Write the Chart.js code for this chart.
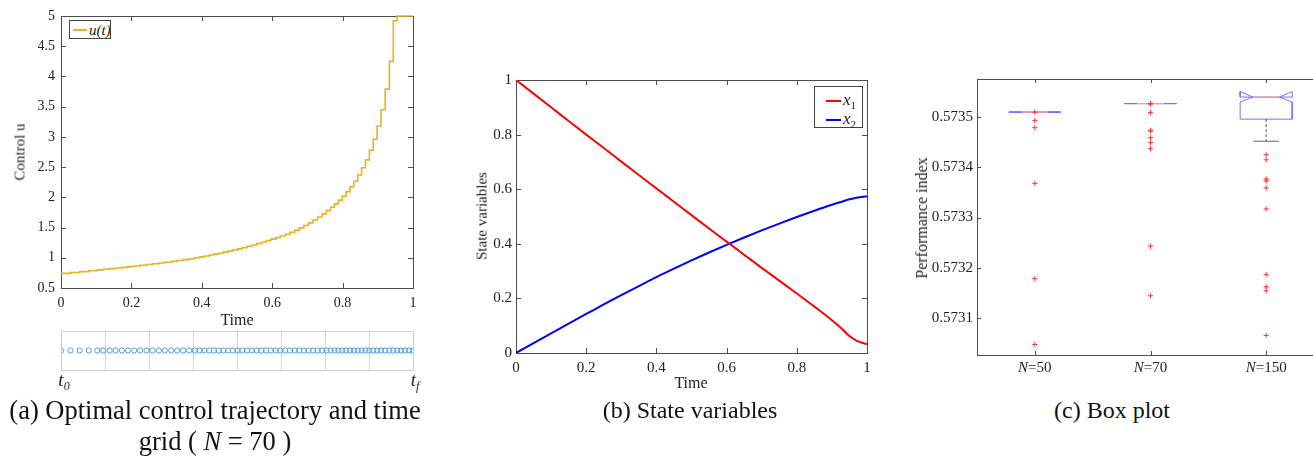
<!DOCTYPE html>
<html>
<head>
<meta charset="utf-8">
<script src="https://cdn.jsdelivr.net/npm/chart.js@4"></script>
<style>
  html, body { margin: 0; padding: 0; background: #fff; }
  body { width: 1313px; height: 456px; overflow: hidden; position: relative; font-family: "Liberation Serif", "Times New Roman", serif; color: #222; }
  canvas { position: absolute; }
  .t { position: absolute; white-space: nowrap; transform: translate(-50%, -50%); line-height: 1; }
  .rot { transform: translate(-50%, -50%) rotate(-90deg); }
  .leg { position: absolute; border: 1px solid #444; background: #fff; box-sizing: border-box; }
  .legrow { position: absolute; left: 0; height: 16px; font-style: italic; }
  .legline { position: absolute; height: 0; border-top: 2px solid; }
  .cap { font-size: 24px; color: #111; }
</style>
</head>
<body>
<canvas id="ca" width="440" height="312" style="left:0;top:0"></canvas>
<canvas id="cg" width="440" height="50" style="left:0;top:325px"></canvas>
<canvas id="cb" width="420" height="318" style="left:460px;top:60px"></canvas>
<canvas id="cc" width="450" height="325" style="left:890px;top:60px"></canvas>

<!-- panel (a) texts -->
<div class="t rot" style="left:20px;top:152px;font-size:15px">Control u</div>
<div class="t" style="left:237px;top:320px;font-size:16px">Time</div>
<div class="leg" style="left:69px;top:20px;width:42px;height:19px">
  <div class="legline" style="left:3px;top:8px;width:14px;border-color:#EDB120"></div>
  <div class="legrow" style="left:19px;top:1px;font-size:15px">u(t)</div>
</div>
<div class="t" style="left:64px;top:381px;font-size:19px;font-style:italic">t<sub style="font-size:12px">0</sub></div>
<div class="t" style="left:415px;top:381px;font-size:19px;font-style:italic">t<sub style="font-size:12px">f</sub></div>
<div class="t cap" style="left:215px;top:410px;font-size:26.5px">(a) Optimal control trajectory and time</div>
<div class="t cap" style="left:215px;top:441px;font-size:26.5px">grid ( <i>N</i> = 70 )</div>

<!-- panel (b) texts -->
<div class="t rot" style="left:482px;top:216px;font-size:15px">State variables</div>
<div class="t" style="left:691px;top:383px;font-size:16px">Time</div>
<div class="leg" style="left:814px;top:86px;width:49px;height:42px">
  <div class="legline" style="left:11px;top:13px;width:15px;border-color:#ff0000"></div>
  <div class="legrow" style="left:28px;top:3px;font-size:17px">x<sub style="font-size:11px;font-style:normal">1</sub></div>
  <div class="legline" style="left:11px;top:32px;width:15px;border-color:#0000ff"></div>
  <div class="legrow" style="left:28px;top:22px;font-size:17px">x<sub style="font-size:11px;font-style:normal">2</sub></div>
</div>
<div class="t cap" style="left:690px;top:410px">(b) State variables</div>

<!-- panel (c) texts -->
<div class="t rot" style="left:922px;top:218px;font-size:16px">Performance index</div>
<div class="t cap" style="left:1112px;top:410px">(c) Box plot</div>

<script>
// ---------- (a) control trajectory on the N = 70 time grid ----------
const gridNodes = [
  0, 0.027, 0.053, 0.079, 0.103,
  0.120, 0.138, 0.155, 0.173, 0.190, 0.208, 0.225, 0.243, 0.260, 0.278, 0.295, 0.313, 0.330, 0.347, 0.364, 0.380,
  0.394, 0.407, 0.421, 0.434, 0.448, 0.461, 0.475, 0.488, 0.502, 0.515, 0.529, 0.542, 0.556, 0.569, 0.583, 0.596,
  0.610, 0.623, 0.637, 0.650, 0.664, 0.677, 0.690, 0.703, 0.716, 0.729, 0.742, 0.754,
  0.766, 0.777, 0.788, 0.799, 0.810, 0.821, 0.832, 0.843, 0.854, 0.865, 0.876, 0.887, 0.898, 0.909, 0.921, 0.933,
  0.944, 0.955, 0.966, 0.977, 0.989, 1.0
];
// control value held on each interval [gridNodes[i], gridNodes[i+1])
const controlU = [
  0.742, 0.757, 0.771, 0.786, 0.800,
  0.810, 0.820, 0.830, 0.841, 0.853, 0.864, 0.876, 0.888, 0.900, 0.913, 0.926, 0.940, 0.954, 0.969, 0.984, 1.000,
  1.015, 1.030, 1.045, 1.060, 1.076, 1.093, 1.110, 1.128, 1.148, 1.168, 1.189, 1.211, 1.234, 1.258, 1.283, 1.308,
  1.333, 1.360, 1.390, 1.422, 1.457, 1.495, 1.535, 1.578, 1.625, 1.675, 1.727, 1.780,
  1.835, 1.892, 1.953, 2.020, 2.095, 2.175, 2.265, 2.370, 2.490, 2.620, 2.780, 2.960, 3.180, 3.450, 3.790, 4.250,
  4.920, 5.000, 5.000, 5.000, 5.000
];
const xTicksA = [0, 0.2, 0.4, 0.6, 0.8, 1];
const xTickLabelsA = ['0', '0.2', '0.4', '0.6', '0.8', '1'];
const yTicksA = [0.5, 1, 1.5, 2, 2.5, 3, 3.5, 4, 4.5, 5];
const yTickLabelsA = ['0.5', '1', '1.5', '2', '2.5', '3', '3.5', '4', '4.5', '5'];
const stripTicks = [0, 0.125, 0.25, 0.375, 0.5, 0.625, 0.75, 0.875, 1];

// ---------- (b) state variables ----------
const timeB = [0, 0.05, 0.1, 0.15, 0.2, 0.25, 0.3, 0.35, 0.4, 0.45, 0.5, 0.55, 0.6, 0.65, 0.7, 0.75, 0.8, 0.85, 0.9, 0.93, 0.95, 0.97, 1.0];
const stateX1 = [1, 0.95, 0.9, 0.85, 0.8, 0.751, 0.701, 0.652, 0.603, 0.554, 0.505, 0.456, 0.408, 0.36, 0.312, 0.265, 0.218, 0.17, 0.12, 0.087, 0.062, 0.045, 0.032];
const stateX2 = [0, 0.036, 0.072, 0.108, 0.143, 0.178, 0.212, 0.245, 0.278, 0.309, 0.339, 0.368, 0.396, 0.423, 0.449, 0.474, 0.498, 0.521, 0.543, 0.555, 0.563, 0.569, 0.574];
const xTicksB = [0, 0.2, 0.4, 0.6, 0.8, 1];
const xTickLabelsB = ['0', '0.2', '0.4', '0.6', '0.8', '1'];
const yTicksB = [0, 0.2, 0.4, 0.6, 0.8, 1];
const yTickLabelsB = ['0', '0.2', '0.4', '0.6', '0.8', '1'];

// ---------- (c) box plot of the performance index ----------
const boxGroups = ['50', '70', '150'];
const boxQ1 = [0.573510, 0.573527, 0.573496];
const boxMedian = [0.573510, 0.573527, 0.573540];
const boxQ3 = [0.573510, 0.573527, 0.573540];
const notchLow = [0.573510, 0.573527, 0.573530];
const notchHigh = [0.573510, 0.573527, 0.573551];
const whiskerLow = [0.573510, 0.573527, 0.573452];
const whiskerHigh = [0.573510, 0.573527, 0.573540];
const outliersN50 = [0.573510, 0.573493, 0.573479, 0.573368, 0.573178, 0.573047];
const outliersN70 = [0.573527, 0.573526, 0.573509, 0.573474, 0.573472, 0.573459, 0.573449, 0.573437, 0.573243, 0.573144];
const outliersN150 = [0.573425, 0.573415, 0.573377, 0.573373, 0.573359, 0.573317, 0.573186, 0.573162, 0.573154, 0.573065];
const yTicksC = [0.5731, 0.5732, 0.5733, 0.5734, 0.5735];

const FONT = 'Liberation Serif';
const INK = '#222';
const AXIS = '#4d4d4d';

// axis box with inward tick marks on all four sides
function drawFrame(chart, o) {
  const { ctx, chartArea: a, scales } = chart;
  ctx.save();
  ctx.strokeStyle = o.color || AXIS;
  ctx.lineWidth = 1;
  const L = o.len || 0;
  ctx.beginPath();
  if (L > 0) {
    scales.x.ticks.forEach(t => {
      const p = Math.round(scales.x.getPixelForValue(t.value)) + 0.5;
      ctx.moveTo(p, a.bottom); ctx.lineTo(p, a.bottom - L);
      ctx.moveTo(p, a.top); ctx.lineTo(p, a.top + L);
    });
    scales.y.ticks.forEach(t => {
      const p = Math.round(scales.y.getPixelForValue(t.value)) + 0.5;
      ctx.moveTo(a.left, p); ctx.lineTo(a.left + L, p);
      ctx.moveTo(a.right, p); ctx.lineTo(a.right - L, p);
    });
  }
  ctx.stroke();
  ctx.strokeRect(Math.round(a.left) + 0.5, Math.round(a.top) + 0.5,
                 Math.round(a.right - a.left), Math.round(a.bottom - a.top));
  ctx.restore();
}
const frameTicks = {
  id: 'frameTicks',
  beforeDatasetsDraw(chart, args, o) { if (o.under) drawFrame(chart, o); },
  afterDatasetsDraw(chart, args, o) { if (!o.under) drawFrame(chart, o); }
};

function setTicks(values) {
  return scale => { scale.ticks = values.map(v => ({ value: v })); };
}
function fixWidth(w) { return scale => { scale.width = w; }; }
function fixHeight(h) { return scale => { scale.height = h; }; }

const base = {
  responsive: false,
  animation: false,
  devicePixelRatio: 1,
  events: [],
};
const noLegend = { legend: { display: false }, tooltip: { enabled: false } };

// ----- panel (a) chart -----
const stepPts = gridNodes.slice(0, controlU.length).map((t, i) => ({ x: t, y: controlU[i] }));
stepPts.push({ x: gridNodes[gridNodes.length - 1], y: controlU[controlU.length - 1] });

new Chart(document.getElementById('ca'), {
  type: 'scatter',
  data: { datasets: [{
    data: stepPts, showLine: true, stepped: true, clip: 3,
    borderColor: '#EDB120', borderWidth: 1.6, pointRadius: 0
  }]},
  options: {
    ...base,
    layout: { padding: { left: 0, right: 27, top: 16, bottom: 0 } },
    plugins: { ...noLegend, frameTicks: { len: 5, under: true } },
    scales: {
      x: {
        type: 'linear', min: 0, max: 1,
        afterBuildTicks: setTicks(xTicksA), afterFit: fixHeight(24),
        grid: { display: false, drawTicks: false }, border: { display: false },
        ticks: { padding: 7, color: INK, font: { family: FONT, size: 14 }, maxRotation: 0,
                 callback: (v, i) => xTickLabelsA[i] }
      },
      y: {
        min: 0.5, max: 5,
        afterBuildTicks: setTicks(yTicksA), afterFit: fixWidth(61),
        grid: { display: false, drawTicks: false }, border: { display: false },
        ticks: { padding: 6, color: INK, font: { family: FONT, size: 14 },
                 callback: (v, i) => yTickLabelsA[i] }
      }
    }
  },
  plugins: [frameTicks]
});

// ----- panel (a) time-grid strip -----
new Chart(document.getElementById('cg'), {
  type: 'scatter',
  data: { datasets: [{
    data: gridNodes.map(t => ({ x: t, y: 0 })),
    pointStyle: 'circle', pointRadius: 2.6, borderWidth: 1,
    borderColor: '#4e9bd6', backgroundColor: 'rgba(0,0,0,0)'
  }]},
  options: {
    ...base,
    layout: { padding: { left: 61, right: 27, top: 6, bottom: 5 } },
    plugins: { ...noLegend, frameTicks: { len: 0, color: '#cfcfcf' } },
    scales: {
      x: {
        type: 'linear', min: 0, max: 1,
        afterBuildTicks: setTicks(stripTicks), afterFit: fixHeight(0),
        grid: { display: true, drawTicks: false, color: '#d6d6d6', lineWidth: 1 },
        border: { display: false },
        ticks: { display: false }
      },
      y: { display: false, min: -1, max: 1 }
    }
  },
  plugins: [frameTicks]
});

// ----- panel (b) chart -----
new Chart(document.getElementById('cb'), {
  type: 'scatter',
  data: { datasets: [
    { data: timeB.map((t, i) => ({ x: t, y: stateX1[i] })), showLine: true, borderColor: '#ff0000',
      borderWidth: 2, pointRadius: 0, cubicInterpolationMode: 'monotone' },
    { data: timeB.map((t, i) => ({ x: t, y: stateX2[i] })), showLine: true, borderColor: '#0000ff',
      borderWidth: 2, pointRadius: 0, cubicInterpolationMode: 'monotone' }
  ]},
  options: {
    ...base,
    layout: { padding: { left: 0, right: 13, top: 20, bottom: 0 } },
    plugins: { ...noLegend, frameTicks: { len: 5, under: true } },
    scales: {
      x: {
        type: 'linear', min: 0, max: 1,
        afterBuildTicks: setTicks(xTicksB), afterFit: fixHeight(25),
        grid: { display: false, drawTicks: false }, border: { display: false },
        ticks: { padding: 6, color: INK, font: { family: FONT, size: 15 }, maxRotation: 0,
                 callback: (v, i) => xTickLabelsB[i] }
      },
      y: {
        min: 0, max: 1,
        afterBuildTicks: setTicks(yTicksB), afterFit: fixWidth(56),
        grid: { display: false, drawTicks: false }, border: { display: false },
        ticks: { padding: 4, color: INK, font: { family: FONT, size: 15 },
                 callback: (v, i) => yTickLabelsB[i] }
      }
    }
  },
  plugins: [frameTicks]
});

// ----- panel (c) chart -----
const BOX_HALF = 0.225, NOTCH_HALF = 0.115, CAP_HALF = 0.11;
const boxSets = [];
boxGroups.forEach((g, i) => {
  const c = i + 1;
  boxSets.push({
    data: [
      { x: c - BOX_HALF, y: boxQ1[i] }, { x: c - BOX_HALF, y: notchLow[i] },
      { x: c - NOTCH_HALF, y: boxMedian[i] }, { x: c - BOX_HALF, y: notchHigh[i] },
      { x: c - BOX_HALF, y: boxQ3[i] }, { x: c + BOX_HALF, y: boxQ3[i] },
      { x: c + BOX_HALF, y: notchHigh[i] }, { x: c + NOTCH_HALF, y: boxMedian[i] },
      { x: c + BOX_HALF, y: notchLow[i] }, { x: c + BOX_HALF, y: boxQ1[i] },
      { x: c - BOX_HALF, y: boxQ1[i] }
    ],
    showLine: true, pointRadius: 0, borderColor: '#7373ff', borderWidth: 1, order: 3
  });
  boxSets.push({
    data: [{ x: c - NOTCH_HALF, y: boxMedian[i] }, { x: c + NOTCH_HALF, y: boxMedian[i] }],
    showLine: true, pointRadius: 0, borderColor: '#ff9a9a', borderWidth: 1.2, order: 1
  });
  if (whiskerLow[i] < boxQ1[i]) {
    boxSets.push({
      data: [{ x: c, y: boxQ1[i] }, { x: c, y: whiskerLow[i] }],
      showLine: true, pointRadius: 0, borderColor: '#555', borderWidth: 1, borderDash: [3, 2], order: 2
    });
    boxSets.push({
      data: [{ x: c - CAP_HALF, y: whiskerLow[i] }, { x: c + CAP_HALF, y: whiskerLow[i] }],
      showLine: true, pointRadius: 0, borderColor: '#666', borderWidth: 1, order: 2
    });
  }
  if (whiskerHigh[i] > boxQ3[i]) {
    boxSets.push({
      data: [{ x: c, y: boxQ3[i] }, { x: c, y: whiskerHigh[i] }],
      showLine: true, pointRadius: 0, borderColor: '#555', borderWidth: 1, borderDash: [3, 2], order: 2
    });
    boxSets.push({
      data: [{ x: c - CAP_HALF, y: whiskerHigh[i] }, { x: c + CAP_HALF, y: whiskerHigh[i] }],
      showLine: true, pointRadius: 0, borderColor: '#666', borderWidth: 1, order: 2
    });
  }
});
[outliersN50, outliersN70, outliersN150].forEach((vals, i) => {
  boxSets.push({
    data: vals.map(v => ({ x: i + 1, y: v })),
    pointStyle: 'cross', pointRadius: 2.6, borderWidth: 1, borderColor: '#ff3030', order: 0
  });
});

// category labels with an italic N
const groupLabels = {
  id: 'groupLabels',
  afterDraw(chart) {
    const { ctx, chartArea: a, scales } = chart;
    ctx.save();
    ctx.fillStyle = INK;
    ctx.textBaseline = 'middle';
    boxGroups.forEach((g, i) => {
      const px = scales.x.getPixelForValue(i + 1);
      ctx.font = 'italic 15px "' + FONT + '"';
      const wN = ctx.measureText('N').width;
      ctx.font = '15px "' + FONT + '"';
      const rest = '=' + g;
      const wR = ctx.measureText(rest).width;
      const x0 = px - (wN + wR) / 2;
      ctx.font = 'italic 15px "' + FONT + '"';
      ctx.fillText('N', x0, a.bottom + 13);
      ctx.font = '15px "' + FONT + '"';
      ctx.fillText(rest, x0 + wN, a.bottom + 13);
    });
    ctx.restore();
  }
};

new Chart(document.getElementById('cc'), {
  type: 'scatter',
  data: { datasets: boxSets },
  options: {
    ...base,
    layout: { padding: { left: 0, right: 16, top: 19, bottom: 0 } },
    plugins: { ...noLegend, frameTicks: { len: 4 } },
    scales: {
      x: {
        type: 'linear', min: 0.5, max: 3.5,
        afterBuildTicks: setTicks([1, 2, 3]), afterFit: fixHeight(30),
        grid: { display: false, drawTicks: false }, border: { display: false },
        ticks: { display: false }
      },
      y: {
        min: 0.573026, max: 0.573576,
        afterBuildTicks: setTicks(yTicksC), afterFit: fixWidth(87),
        grid: { display: false, drawTicks: false }, border: { display: false },
        ticks: { padding: 4, color: INK, font: { family: FONT, size: 15 },
                 callback: v => v.toFixed(4) }
      }
    }
  },
  plugins: [frameTicks, groupLabels]
});
</script>
</body>
</html>
